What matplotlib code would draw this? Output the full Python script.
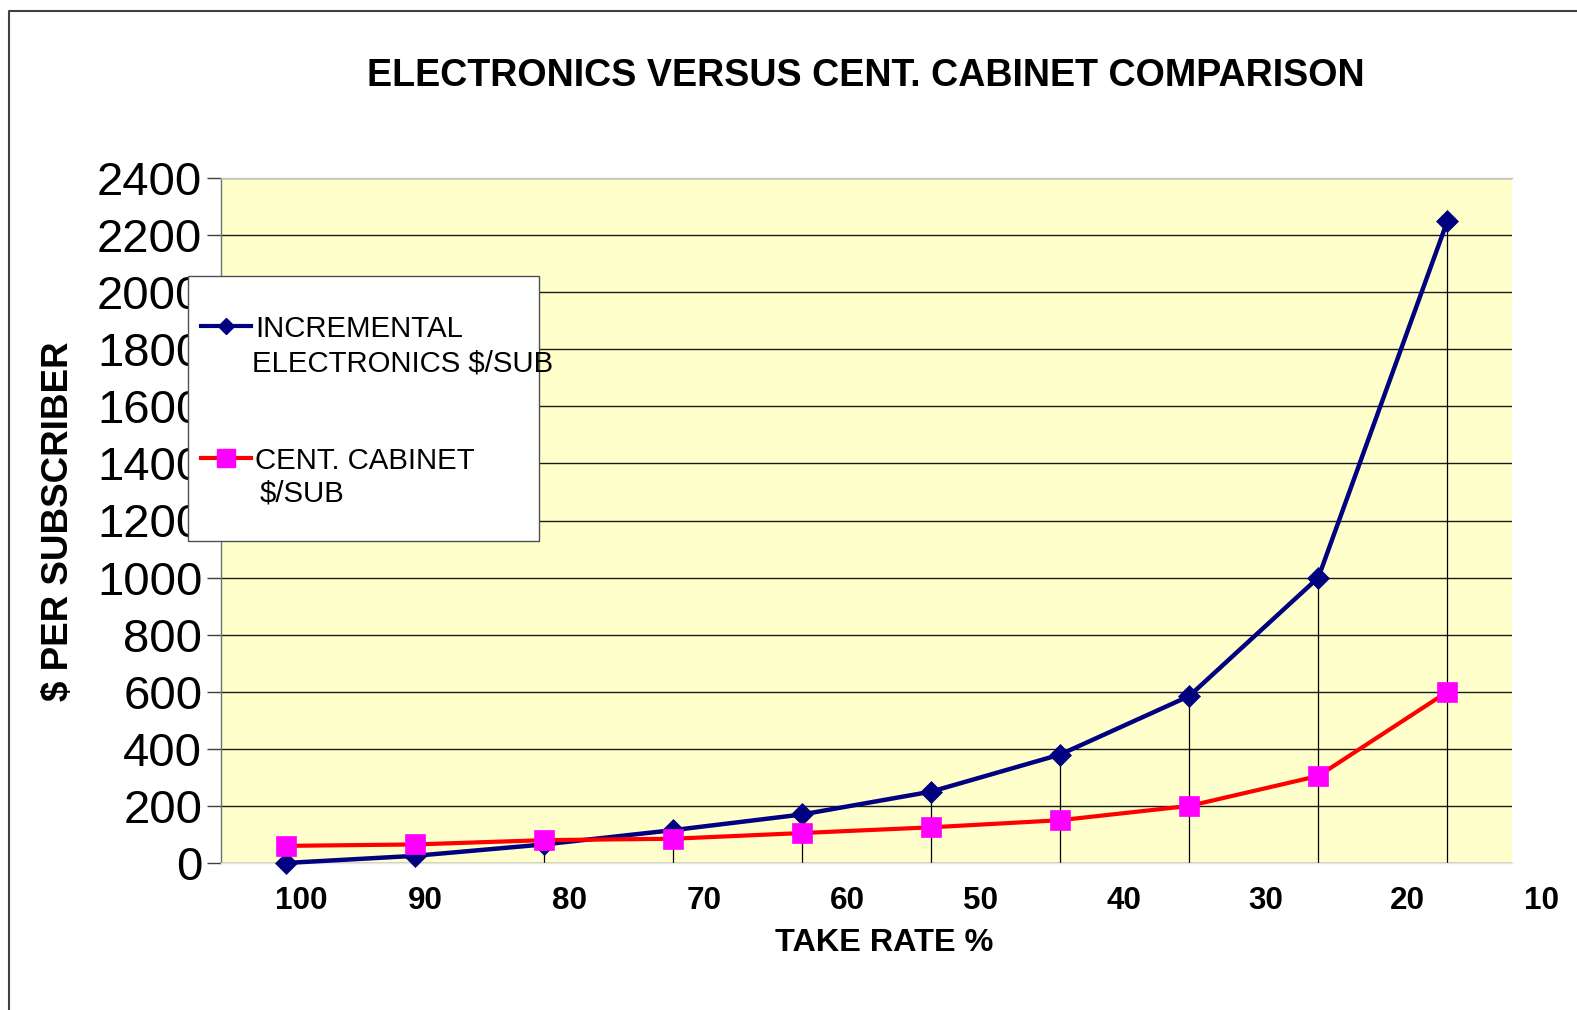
import matplotlib
matplotlib.use("Agg")
import matplotlib.pyplot as plt
from matplotlib.lines import Line2D
from matplotlib.patches import Rectangle

plt.rcParams['font.family'] = ['Liberation Sans', 'DejaVu Sans']

# ---- data ----
take_rate_labels = ["100", "90", "80", "70", "60", "50", "40", "30", "20", "10"]
electronics = [0, 25, 65, 115, 170, 250, 380, 585, 1000, 2250]
cabinet = [60, 65, 80, 85, 105, 125, 150, 200, 305, 600]
y_ticks = list(range(0, 2401, 200))

# category positions of the take-rate labels (label text sits slightly off the points)
label_pos = [0.118, 1.086, 2.196, 3.242, 4.35, 5.38, 6.495, 7.593, 8.693, 9.73]

W, H = 1577, 1010
DPI = 100
fig = plt.figure(figsize=(W / DPI, H / DPI), dpi=DPI)
fig.patch.set_facecolor("white")


def fx(px):
    return px / W


def fy(py):
    return 1 - py / H


NAVY = "#000080"
RED = "#FF0000"
MAGENTA = "#FF00FF"

ax = fig.add_axes([fx(221), fy(863), fx(1512) - fx(221), fy(178) - fy(863)])
ax.set_facecolor("#FFFFCC")

x = list(range(len(electronics)))
ax.set_xlim(-0.5, len(x) - 0.5)
ax.set_ylim(0, 2400)

# horizontal gridlines
ax.set_yticks(y_ticks)
ax.yaxis.grid(True, color="#1a1a1a", linewidth=1.0)
ax.set_axisbelow(True)

# drop lines from the highest point of each category to the axis
tops = [max(a, b) for a, b in zip(electronics, cabinet)]
ax.vlines(x, 0, tops, color="black", linewidth=0.9, zorder=2)

ax.plot(x, electronics, color=NAVY, linewidth=3.2, marker="D", markersize=11.5,
        markerfacecolor=NAVY, markeredgecolor=NAVY, markeredgewidth=0.5,
        zorder=4, clip_on=False)
ax.plot(x, cabinet, color=RED, linewidth=3.0, marker="s", markersize=15,
        markerfacecolor=MAGENTA, markeredgecolor=MAGENTA, markeredgewidth=0.5,
        zorder=5, clip_on=False)

# axes styling
ax.spines["right"].set_visible(False)
ax.spines["top"].set_color("#c8c8c8")
ax.spines["top"].set_linewidth(1.0)
ax.spines["bottom"].set_color("#e4e4ee")
ax.spines["bottom"].set_linewidth(1.0)
ax.spines["left"].set_color("#707070")
ax.spines["left"].set_linewidth(1.0)

ax.tick_params(axis="y", direction="out", length=10, width=1.0, color="#404040",
               pad=3.5, labelsize=34)
ax.set_xticks([])

# take-rate labels along the bottom
for pos, lab in zip(label_pos, take_rate_labels):
    ax.text(pos, -0.056, lab, transform=ax.get_xaxis_transform(), ha="center",
            va="center", fontsize=22.6, fontweight="bold", clip_on=False)

fig.text(fx(884), fy(943), "TAKE RATE %", ha="center", va="center",
         fontsize=23.3, fontweight="bold")
fig.text(fx(59), fy(521), "$ PER SUBSCRIBER", ha="center", va="center",
         rotation=90, fontsize=26.5, fontweight="bold")
fig.text(fx(866), fy(76), "ELECTRONICS VERSUS CENT. CABINET COMPARISON",
         ha="center", va="center", fontsize=27.1, fontweight="bold")

# legend box
fig.add_artist(Rectangle((fx(188), fy(541)), fx(539) - fx(188), fy(276) - fy(541),
                         transform=fig.transFigure, facecolor="white",
                         edgecolor="#505050", linewidth=1.0, zorder=10))
legend_rows = [
    (326, NAVY, NAVY, "D", 8.5, ["INCREMENTAL", "ELECTRONICS $/SUB"], [(255, 329), (252, 364)]),
    (458, RED, MAGENTA, "s", 12.5, ["CENT. CABINET", "$/SUB"], [(255, 461), (260, 494)]),
]
for ly, lc, mc, mk, ms, lines, pos in legend_rows:
    fig.add_artist(Line2D([fx(201), fx(251)], [fy(ly), fy(ly)], color=lc,
                          linewidth=3.0, transform=fig.transFigure, zorder=11))
    fig.add_artist(Line2D([fx(226)], [fy(ly)], marker=mk, markersize=ms,
                          markerfacecolor=mc, markeredgecolor=mc, linestyle="none",
                          transform=fig.transFigure, zorder=12))
    for txt, (tx, ty) in zip(lines, pos):
        fig.text(fx(tx), fy(ty), txt, ha="left", va="center", fontsize=21.2,
                 zorder=13)

# outer frame (top and left edges)
fig.add_artist(Line2D([fx(9), fx(9), fx(W + 5)], [fy(H + 5), fy(11), fy(11)],
                      color="#404040", linewidth=1.5, transform=fig.transFigure,
                      zorder=20))

fig.savefig("out.png", dpi=DPI, facecolor="white")
